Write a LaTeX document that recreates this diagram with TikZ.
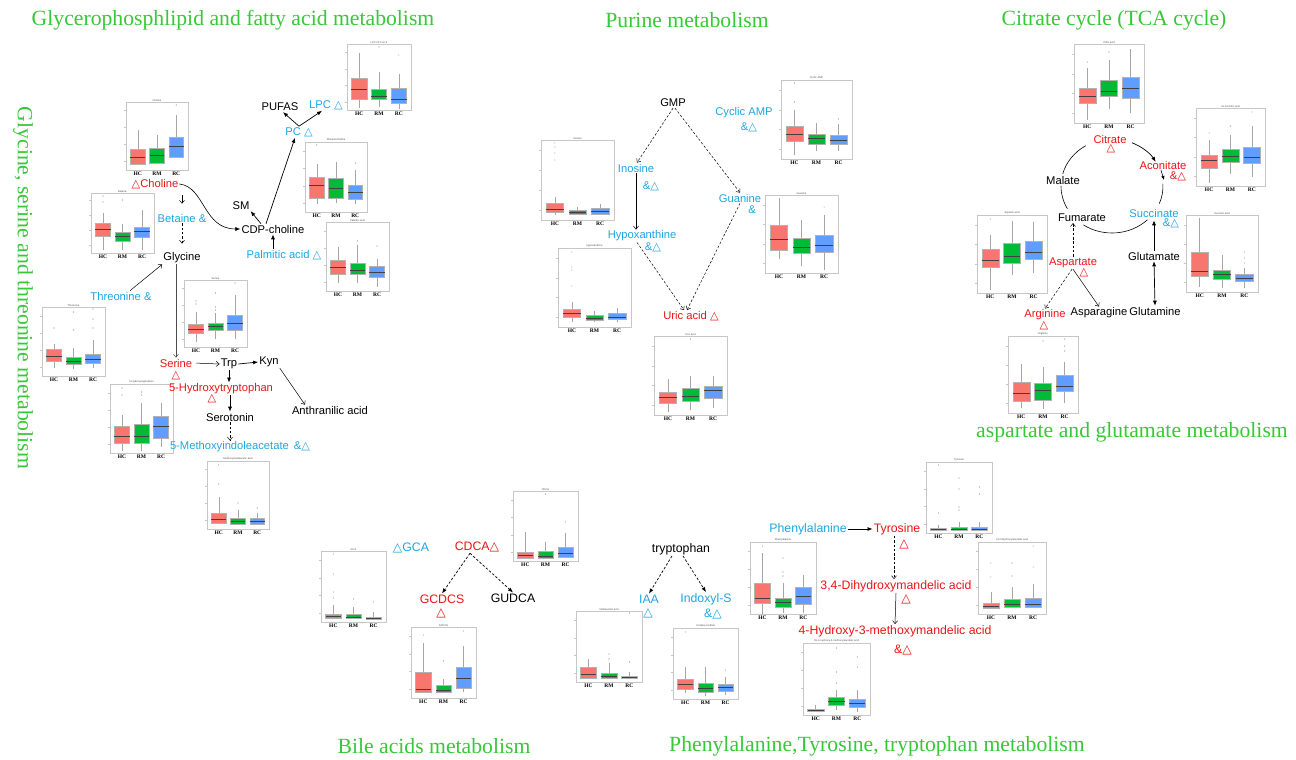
\documentclass[tikz,border=0pt]{standalone}
\usepackage{fontspec}
\setmainfont{Liberation Sans}
\newfontfamily\serifT{Liberation Serif}
\newfontfamily\symf{DejaVu Sans}
\usetikzlibrary{arrows.meta}
\newcommand\tri{{\symf △}}
\definecolor{tgreen}{RGB}{55,200,55}
\definecolor{tblue}{RGB}{30,165,225}
\definecolor{tred}{RGB}{235,20,20}
\definecolor{bc1}{RGB}{248,118,109}
\definecolor{bc2}{RGB}{0,186,56}
\definecolor{bc3}{RGB}{97,156,255}
\newcommand\fa{\fontsize{11.2}{12}\selectfont}
\newcommand\fb{\fontsize{12.3}{13}\selectfont}
\tikzset{
  ttl/.style={text=tgreen, font=\serifT\fontsize{21.7}{24}\selectfont, inner sep=0pt},
  lab/.style={inner sep=1pt, font=\fa},
  labb/.style={inner sep=1pt, font=\fb},
  fa/.style={-{Latex[length=5pt,width=4pt]}, line width=0.7pt},
  oa/.style={-{Straight Barb[length=3pt,width=5pt]}, line width=0.5pt},
  dsh/.style={dash pattern=on 2.5pt off 1.8pt},
  pframe/.style={draw=black!22, line width=0.7pt},
  ptitle/.style={font=\fontsize{2.6}{3}\selectfont, text=black!70, inner sep=0.5pt},
  glab/.style={font=\serifT\bfseries\fontsize{5.5}{6}\selectfont, inner sep=0.5pt},
  whisk/.style={draw=black!35, line width=0.5pt},
  bbox/.style={draw=black!30, line width=0.4pt},
  bmed/.style={draw=black!75, line width=0.5pt},
  outl/.style={fill=black!45},
}
% \panel{x0}{y0}{x1}{y1}{title}{lo/q1/med/q3/hi x3}{box/y outliers}
\newcommand{\panel}[7]{%
  \draw[pframe] (#1,#2) rectangle (#3,#4);
  \node[ptitle, anchor=south] at ({(#1+#3)/2},#2) {#5};
  \foreach \k in {0.12,0.37,0.62,0.87}
    \draw[pframe] (#1,{#4-\k*(#4-#2)}) -- ++(-1.8,0);
  \foreach \lo/\qa/\md/\qb/\hi [count=\i] in {#6} {%
    \pgfmathsetmacro\cx{#1+(#3-#1)*(0.5+0.31*(\i-2))}%
    \pgfmathsetmacro\hw{(#3-#1)*0.12}%
    \draw[whisk] (\cx,\lo) -- (\cx,\hi);
    \draw[bbox, fill=bc\i] (\cx-\hw,\qa) rectangle (\cx+\hw,\qb);
    \draw[bmed] (\cx-\hw,\md) -- (\cx+\hw,\md);
    \node[glab, anchor=north] at (\cx,#4+1) {\ifcase\i\or HC\or RM\or RC\fi};
  }
  \foreach \j/\yy in {#7} {%
    \pgfmathsetmacro\cx{#1+(#3-#1)*(0.5+0.31*(\j-2))}%
    \fill[outl] (\cx,\yy) circle (0.55);
  }
}
\begin{document}
\begin{tikzpicture}[x=1pt,y=-1pt]
\useasboundingbox (0,0) rectangle (1296,760);

% ---------- titles ----------
\node[ttl] (t1) at (233,20) {Glycerophosphlipid and fatty acid metabolism};
\node[ttl] (t2) at (687,20) {Purine metabolism};
\node[ttl] (t3) at (1114,20) {Citrate cycle (TCA cycle)};
\node[ttl, rotate=-90] (t4) at (23,288) {Glycine, serine and threonine metabolism};
\node[ttl] (t5) at (1132,432) {aspartate and glutamate metabolism};
\node[ttl] (t6) at (434,746) {Bile acids metabolism};
\node[ttl] (t7) at (877,746) {Phenylalanine,Tyrosine, tryptophan metabolism};

% ---------- box plot panels ----------
\panel{347}{44}{411}{110}{LPC 22:5 sn-2}{108/99/89/78/53, 107/99/96/89/72, 109/103/99/88/74}{2/47, 3/55}
\panel{126}{102}{188}{170}{Choline}{165/164/157/149/130, 164/163/155/148/135, 157/157/146/137/115}{3/105}
\panel{305}{142}{367}{212}{Phosphocholine}{204/198/185/177/164, 203/198/188/178/162, 204/199/192/185/170}{1/145, 3/163}
\panel{326}{222}{389}{291}{Palmitic acid}{283/274/267/260/247, 283/274/270/263/245, 287/277/272/266/259}{3/246, 2/241}
\panel{91}{193}{154}{253}{Betaine}{250/236/229/223/213, 250/241/236/232/224, 250/237/231/227/210}{1/196, 1/202, 2/200}
\panel{42}{307}{105}{376}{Threonine}{368/361/356/349/344, 369/364/361/357/348, 368/363/359/354/340}{1/328, 2/312, 2/330, 3/309, 3/319, 3/328}
\panel{184}{280}{247}{347}{Serine}{342/333/329/324/312, 339/330/326/323/313, 339/330/323/315/295}{1/301, 1/304, 2/293, 2/307, 2/310, 3/283}
\panel{110}{384}{173}{453}{5-Hydroxytryptophan}{451/443/436/426/415, 451/443/436/424/403, 447/438/426/416/403}{1/388, 1/395, 2/392, 2/395}
\panel{207}{461}{269}{529}{Methoxyindoleacetic acid}{523/523/519/513/497, 525/524/521/518/510, 525/524/521/518/513}{1/484, 1/465, 2/503, 3/508}
\panel{781}{80}{852}{159}{Cyclic AMP}{155/141/134/126/110, 151/144/138/134/123, 151/144/140/135/124}{1/83, 1/102, 3/119}
\panel{541}{140}{614}{220}{Inosine}{215/212/209/203/197, 215/214/212/210/207, 215/214/211/208/204}{1/143, 1/147, 1/153, 1/160}
\panel{558}{248}{631}{327}{Hypoxanthine}{322/317/313/309/302, 322/320/318/315/311, 322/319/317/313/308}{1/252, 1/267, 1/270, 1/286}
\panel{765}{195}{838}{273}{Guanine}{259/250/239/225/198, 266/253/247/238/220, 270/252/245/235/215}{3/207}
\panel{654}{336}{727}{415}{Uric acid}{412/403/397/392/379, 410/401/396/388/376, 408/398/390/386/376}{2/339}
\panel{1074}{44}{1144}{123}{Citric acid}{120/103/96/88/68, 109/96/91/80/60, 113/98/88/77/49}{1/62, 2/52}
\panel{1196}{108}{1265}{186}{cis-Aconitic acid}{183/168/160/155/140, 174/162/156/149/135, 177/163/157/147/126}{1/133, 2/126, 3/112}
\panel{977}{215}{1047}{293}{Aspartic acid}{290/267/260/249/235, 275/263/256/243/221, 273/259/252/241/222}{1/219}
\panel{1186}{215}{1258}{292}{Succinic acid}{287/276/271/252/218, 288/279/274/270/255, 288/281/278/274/268}{3/252, 3/258, 3/263}
\panel{1008}{336}{1078}{413}{Arginine}{408/401/393/382/364, 409/400/390/383/367, 403/391/386/375/362}{2/341, 3/339, 3/346, 3/351}
\panel{321}{551}{386}{622}{GCA}{618/618/616/614/605, 619/618/617/614/607, 619/619/618/617/612}{1/554, 1/574, 1/592, 1/598, 2/599, 3/602}
\panel{513}{491}{578}{561}{CDCA}{558/558/555/552/532, 558/558/556/551/542, 557/557/553/547/533}{2/494, 3/522}
\panel{411}{627}{476}{698}{GCDCS}{692/692/689/672/643, 692/692/690/685/679, 692/688/678/667/646}{1/635, 2/661, 3/631}
\panel{576}{611}{642}{682}{Indoleacetic acid}{678/678/674/667/659, 678/678/676/673/663, 678/678/677/676/672}{2/654, 2/659, 3/662, 3/613}
\panel{673}{628}{738}{699}{3-Indoxyl sulfate}{693/689/684/679/667, 696/692/688/683/667, 695/691/687/684/677}{1/632, 2/672, 3/670}
\panel{926}{462}{992}{533}{Tyrosine}{530/530/529/528/525, 530/530/529/527/522, 530/530/529/527/522}{1/465, 1/513, 2/478, 2/489, 2/507, 2/510, 3/487, 3/494}
\panel{750}{542}{816}{614}{Phenylalanine}{614/603/598/583/553, 613/607/602/598/583, 613/604/596/587/575}{1/546, 2/558, 2/572, 2/576}
\panel{978}{542}{1046}{614}{3,4-Dihydroxymandelic acid}{609/608/606/603/592, 608/607/604/599/587, 608/607/604/598/584}{1/563, 1/577, 2/563, 2/576, 3/546, 3/567}
\panel{803}{643}{870}{715}{DL-4-Hydroxy-3-methoxymandelic acid}{712/711/710/709/705, 710/705/701/697/690, 712/707/703/699/690}{2/648, 2/672, 2/683, 3/657, 3/667}

% ---------- glycerophospholipid / glycine area ----------
\node[lab] (pufas) at (280,107) {PUFAS};
\node[lab, text=tblue] (lpc) at (326,105) {LPC \tri};
\node[lab, text=tblue] (pc) at (299,132) {PC \tri};
\node[lab, text=tred] (choline) at (155,184) {\tri Choline};
\node[lab, text=tblue] (betaine) at (182,218) {Betaine \&};
\node[lab] (sm) at (241,206) {SM};
\node[lab] (cdp) at (273,229) {CDP-choline};
\node[lab, text=tblue] (palm) at (284,255) {Palmitic acid \tri};
\node[lab] (glycine) at (182,258) {Glycine};
\node[lab, text=tblue] (threonine) at (121,296) {Threonine \&};
\node[lab, text=tred] (serine) at (176,363) {Serine};
\node[lab, text=tred, inner sep=0pt] (serineT) at (176,376) {\tri};
\node[lab] (trp) at (229,364) {Trp};
\node[lab] (kyn) at (269,362) {Kyn};
\node[lab] (anth) at (330,410) {Anthranilic acid};
\node[lab, text=tred] (htp) at (221,389) {5-Hydroxytryptophan};
\node[lab, text=tred, inner sep=0pt] (htpT) at (212,399) {\tri};
\node[lab] (serotonin) at (230,417) {Serotonin};
\node[lab, text=tblue] (mia) at (240,447) {5-Methoxyindoleacetate\hspace{5pt}\&\tri};

\draw[fa] (pc.north) -- ([xshift=3pt]pufas.south);
\draw[fa] (pc.north) -- ([xshift=-4pt]lpc.south);
\draw[fa, line width=0.6pt] (choline.east) .. controls (205,187) and (203,229) .. (cdp.west);
\draw[oa, shorten <=5pt, shorten >=9pt] (betaine.north |- choline.south) -- (betaine.north);
\draw[oa, dsh, shorten >=8pt] (betaine.south) -- (glycine.north);
\draw[oa] ([xshift=9pt]threonine.north) -- (glycine.south west);
\draw[oa, black!70] ([xshift=-6pt]glycine.south) -- (serine.north);
\draw[oa, shorten <=3pt] (serine.east) -- (trp.west);
\draw[fa] (trp.east) -- (kyn.west);
\draw[oa] (kyn.south east) -- ([xshift=-25pt]anth.north);
\draw[fa] (trp.south) -- (trp.south |- htp.north);
\draw[fa] (serotonin.north |- htp.south) -- (serotonin.north);
\draw[oa, dsh] (serotonin.south) -- (serotonin.south |- mia.north);
\draw[fa] ([xshift=-12pt]cdp.north) -- (sm.south east);
\draw[fa] ([xshift=-7pt]cdp.north) -- ([xshift=-4pt]pc.south);
\draw[fa] (cdp.south |- palm.north) -- (cdp.south);

% ---------- purine ----------
\node[lab] (gmp) at (673,103) {GMP};
\node[lab, text=tblue] (inosine) at (636,168) {Inosine};
\node[lab, text=tblue] (inosineM) at (651,186) {\&\tri};
\node[lab, text=tblue] (hypox) at (642,236) {Hypoxanthine};
\node[lab, text=tblue] (hypoxM) at (653,247) {\&\tri};
\node[lab, text=tblue] (guanine) at (740,198) {Guanine};
\node[lab, text=tblue] (guanineM) at (752,210) {\&};
\node[lab, text=tred] (uric) at (691,316) {Uric acid \tri};
\node[lab, text=tblue] (camp) at (744,113) {Cyclic AMP};
\node[lab, text=tblue] (campM) at (749,127) {\&\tri};

\draw[oa, dsh] (gmp.south) -- ([xshift=1pt]inosine.north);
\draw[oa, dsh] ([xshift=2pt]gmp.south) -- (guanine.north);
\draw[oa] (inosine.south) -- (inosine.south |- hypox.north);
\draw[oa, dsh] ([xshift=-5pt]hypox.south) -- ([xshift=-7pt]uric.north);
\draw[oa, dsh] (guanine.south) -- ([xshift=-4pt]uric.north);

% ---------- TCA ----------
\node[lab, text=tred] (citrate) at (1110,139) {Citrate};
\node[lab, text=tred, inner sep=0pt] (citrateT) at (1111,149) {\tri};
\node[lab, text=tred] (aconitate) at (1163,165) {Aconitate};
\node[lab, text=tred] (aconitateM) at (1178,176) {\&\tri};
\node[lab, text=tblue] (succinate) at (1154,213) {Succinate};
\node[lab, text=tblue] (succinateM) at (1171,223) {\&\tri};
\node[lab] (fumarate) at (1082,218) {Fumarate};
\node[lab] (malate) at (1063,180) {Malate};
\node[lab] (glutamate) at (1154,256) {Glutamate};
\node[lab] (glutamine) at (1155,311) {Glutamine};
\node[lab, text=tred] (aspartate) at (1073,263) {Aspartate};
\node[lab, text=tred, inner sep=0pt] (aspartateT) at (1084,273) {\tri};
\node[lab, text=tred] (arginine) at (1045,315) {Arginine};
\node[lab, text=tred, inner sep=0pt] (arginineT) at (1044,326) {\tri};
\node[lab] (asparagine) at (1099,313) {Asparagine};

\coordinate (tcac) at (1112,186);
\begin{scope}[shift={(tcac)}, x=1pt, y=1pt, line width=0.6pt]
  \draw[fa] (67:51 and 47) arc[start angle=67, end angle=31, x radius=51, y radius=47];
  \draw (3:51 and 47) arc[start angle=3, end angle=-22, x radius=51, y radius=47];
  \draw (-46:51 and 47) arc[start angle=-46, end angle=-124, x radius=51, y radius=47];
  \draw (-151:51 and 47) arc[start angle=-151, end angle=-180, x radius=51, y radius=47];
  \draw (165:51 and 47) arc[start angle=165, end angle=121, x radius=51, y radius=47];
\end{scope}
\coordinate (acend) at (1164,180);
\draw[-{Latex[length=4pt,width=3.5pt]}, line width=0.6pt] ([xshift=-2pt]aconitate.south) -- (acend);
\draw[fa, shorten >=2pt] (glutamate.north) -- (succinate.south);
\draw[{Latex[length=5pt,width=4pt]}-{Latex[length=5pt,width=4pt]}, line width=0.7pt] (glutamate.south) -- (glutamine.north);
\draw[oa, dsh] (aspartate.north) -- (aspartate.north |- fumarate.south);
\draw[oa, dsh] ([xshift=-1pt]aspartate.south) -- (arginine.north);
\draw[oa] (aspartate.south) -- (asparagine.north);

% ---------- bile acids ----------
\node[labb, text=tblue] (gca) at (411,548) {\tri GCA};
\node[labb, text=tred] (cdca) at (477,547) {CDCA\tri};
\node[labb, text=tred] (gcdcs) at (442,599) {GCDCS};
\node[labb, text=tred, inner sep=0pt] (gcdcsT) at (441,613) {\tri};
\node[labb] (gudca) at (513,598) {GUDCA};
\draw[fa, dsh] ([xshift=-7pt]cdca.south) -- (gcdcs.north);
\draw[fa, dsh] ([xshift=-7pt]cdca.south) -- (gudca.north);

% ---------- tryptophan ----------
\node[labb] (tryptophan) at (681,549) {tryptophan};
\node[labb, text=tblue] (iaa) at (649,599) {IAA};
\node[labb, text=tblue, inner sep=0pt] (iaaT) at (648,613) {\tri};
\node[labb, text=tblue] (indoxyl) at (706,599) {Indoxyl-S};
\node[labb, text=tblue] (indoxylM) at (713,614) {\&\tri};
\draw[fa, dsh] ([xshift=-9pt]tryptophan.south) -- (iaa.north);
\draw[fa, dsh] ([xshift=2pt]tryptophan.south) -- (indoxyl.north);

% ---------- phenylalanine / tyrosine ----------
\node[labb, text=tblue] (phe) at (808,529) {Phenylalanine};
\node[labb, text=tred] (tyr) at (897,529) {Tyrosine};
\node[labb, text=tred, inner sep=0pt] (tyrT) at (904,544) {\tri};
\node[labb, text=tred] (dhma) at (896,586) {3,4-Dihydroxymandelic acid};
\node[labb, text=tred, inner sep=0pt] (dhmaT) at (906,599) {\tri};
\node[labb, text=tred] (hmma) at (895,631) {4-Hydroxy-3-methoxymandelic acid};
\node[labb, text=tred] (hmmaM) at (903,650) {\&\tri};
\draw[fa] (phe.east) -- (tyr.west);
\draw[oa, dsh] ([xshift=-3pt]tyr.south) -- ([xshift=-2pt]dhma.north);
\draw[oa] (dhma.south) -- (hmma.north);

\end{tikzpicture}
\end{document}
